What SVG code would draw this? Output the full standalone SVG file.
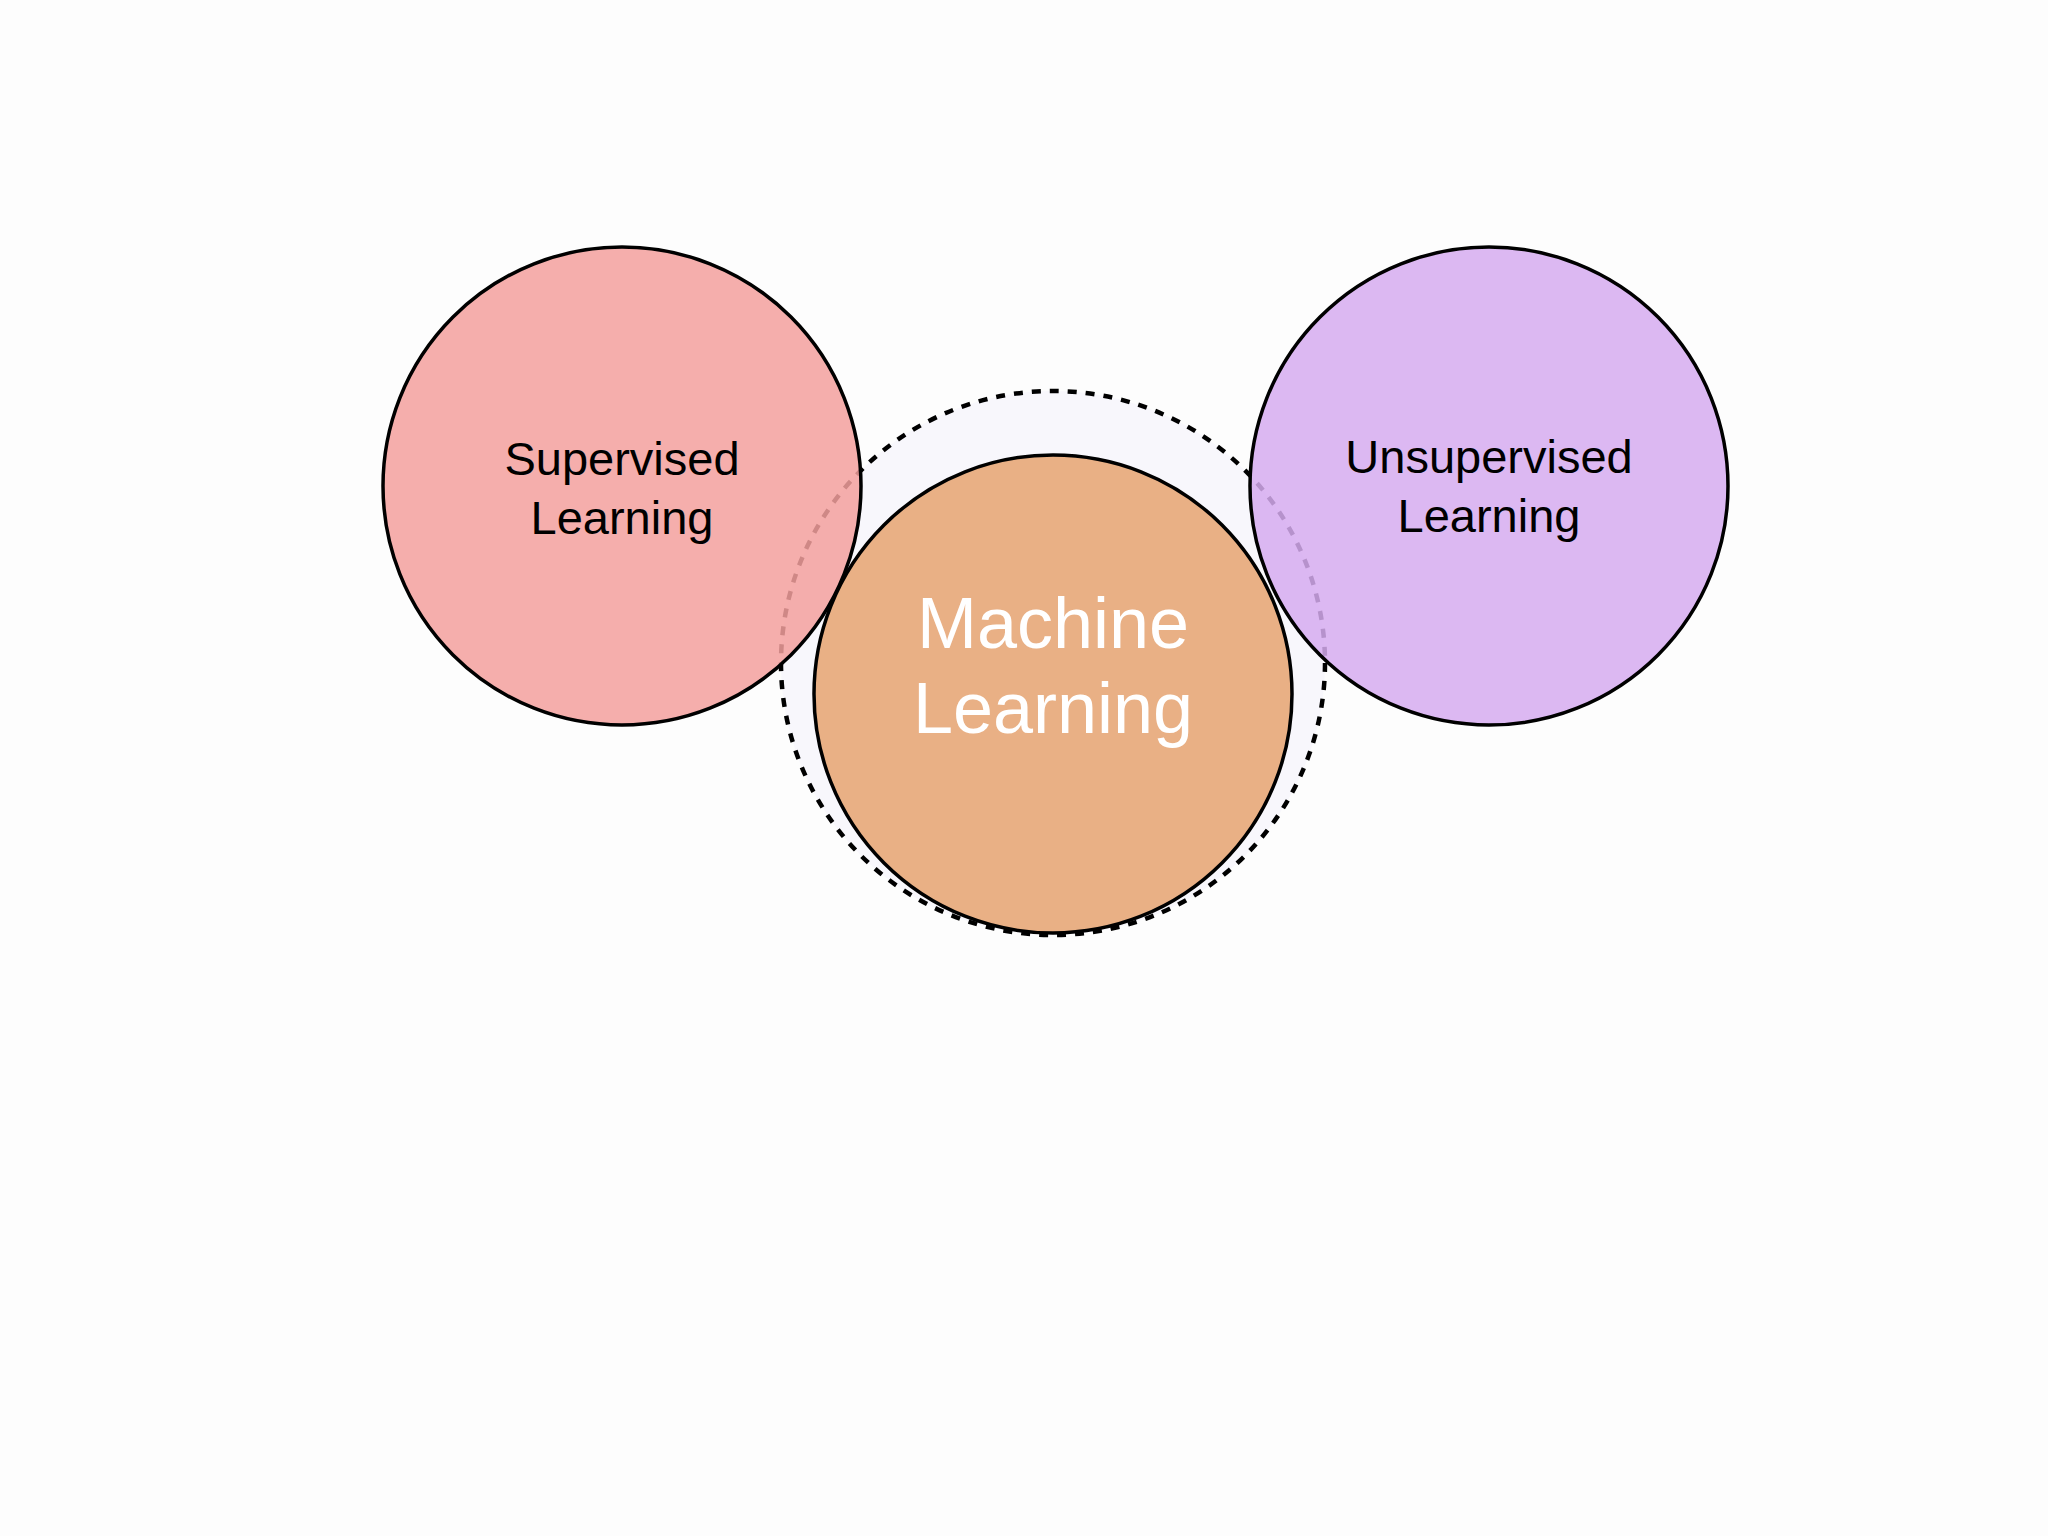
<svg xmlns="http://www.w3.org/2000/svg" width="2048" height="1536" viewBox="0 0 2048 1536">
<style>
.c{stroke:#000;stroke-width:3.5}
.t{font-family:"Liberation Sans",Arial,sans-serif;text-anchor:middle}
</style>
<rect width="2048" height="1536" fill="#fdfdfd"/>
<g id="scope"><circle cx="1053" cy="663" r="272" fill="#f8f7fc" stroke="#000" stroke-width="4.5" stroke-dasharray="9,9"/></g>
<g id="supervised"><circle class="c" cx="622" cy="486" r="239" fill="#f3a09e" fill-opacity="0.85"/>
<text class="t" x="622" y="475" font-size="47">Supervised</text><text class="t" x="622" y="534" font-size="47">Learning</text></g>
<g id="unsupervised"><circle class="c" cx="1489" cy="486" r="239" fill="#d6acf0" fill-opacity="0.85"/>
<text class="t" x="1489" y="473" font-size="47">Unsupervised</text><text class="t" x="1489" y="532" font-size="47">Learning</text></g>
<g id="ml"><circle class="c" cx="1053" cy="694" r="239" fill="#e9b085"/>
<text class="t" x="1053" y="648" font-size="72" fill="#fff">Machine</text><text class="t" x="1053" y="733" font-size="72" fill="#fff">Learning</text></g>
<g id="connectors"></g>
</svg>
